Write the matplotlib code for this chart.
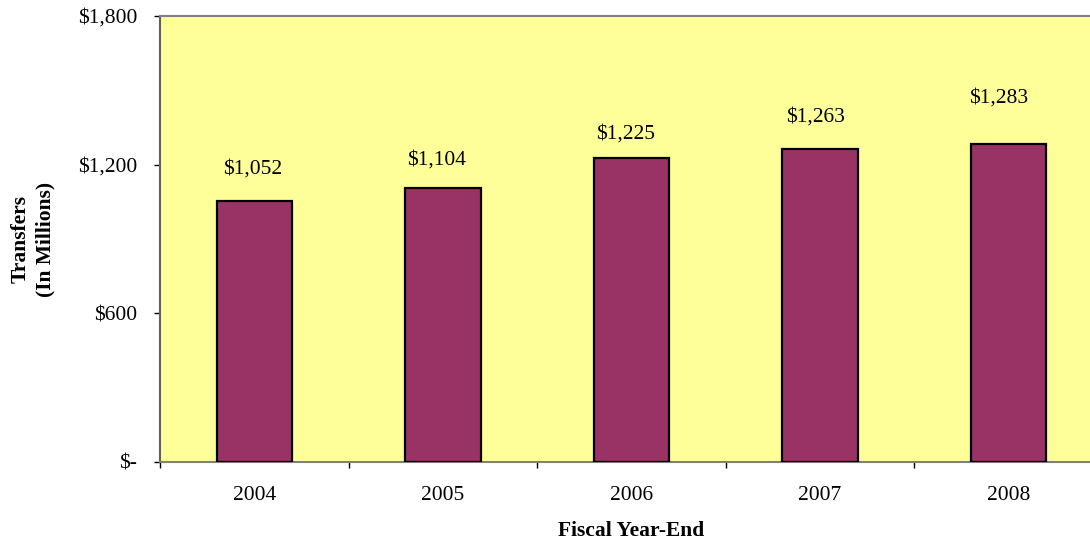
import matplotlib
matplotlib.use("Agg")
import matplotlib.pyplot as plt
from matplotlib.ticker import FixedLocator, FuncFormatter

# Transfers by fiscal year (in millions of dollars)
years = ["2004", "2005", "2006", "2007", "2008"]
transfers = [1052, 1104, 1225, 1263, 1283]
y_ticks = [0, 600, 1200, 1800]

plt.rcParams["font.family"] = ["Liberation Serif", "DejaVu Serif"]
FS = 15.5

W, H = 1090, 543
fig = plt.figure(figsize=(W / 100, H / 100), dpi=100)
ax = fig.add_axes([160 / W, (H - 462) / H, (1103 - 160) / W, (462 - 16) / H])
ax.set_facecolor("#FFFF99")

x = list(range(len(years)))
bars = ax.bar(x, transfers, width=0.4, color="#993366",
              edgecolor="black", linewidth=1.6, zorder=3)

# value labels above each bar (offsets in pixels: dx, dy)
label_offsets = [(-2, 32), (-6, 28), (-6, 24), (-5, 32), (-10, 46)]
for xi, v, (dx, dy) in zip(x, transfers, label_offsets):
    ax.annotate(f"${v:,}", xy=(xi, v), xytext=(dx * 0.72, dy * 0.72),
                textcoords="offset points", ha="center", va="center",
                fontsize=FS, zorder=4)

ax.set_xlim(-0.5, len(years) - 0.5)
ax.set_ylim(0, 1800)

ax.yaxis.set_major_locator(FixedLocator(y_ticks))
ax.yaxis.set_major_formatter(FuncFormatter(lambda v, p: "$-" if v == 0 else f"${v:,.0f}"))
ax.tick_params(axis="y", direction="out", length=4.3, width=1.0, color="black",
               labelsize=FS, pad=12)

ax.set_xticks(x)
ax.set_xticklabels(years)
ax.set_xticks([i - 0.5 for i in range(len(years) + 1)], minor=True)
ax.tick_params(axis="x", which="major", length=0, labelsize=FS, pad=17)
ax.tick_params(axis="x", which="minor", direction="out", length=4.3, width=1.0,
               color="black")

for side in ("top", "bottom", "left", "right"):
    ax.spines[side].set_color("#808080")
    ax.spines[side].set_linewidth(1.5)
ax.spines["left"].set_color("#606060")

fig.text(33 / W, (H - 239) / H, "Transfers\n(In Millions)", rotation=90,
         ha="center", va="center", multialignment="center",
         fontsize=FS, fontweight="bold", linespacing=1.3)
fig.text(631 / W, (H - 531) / H, "Fiscal Year-End", ha="center", va="center",
         fontsize=FS, fontweight="bold")

fig.savefig("out.png", dpi=100)
